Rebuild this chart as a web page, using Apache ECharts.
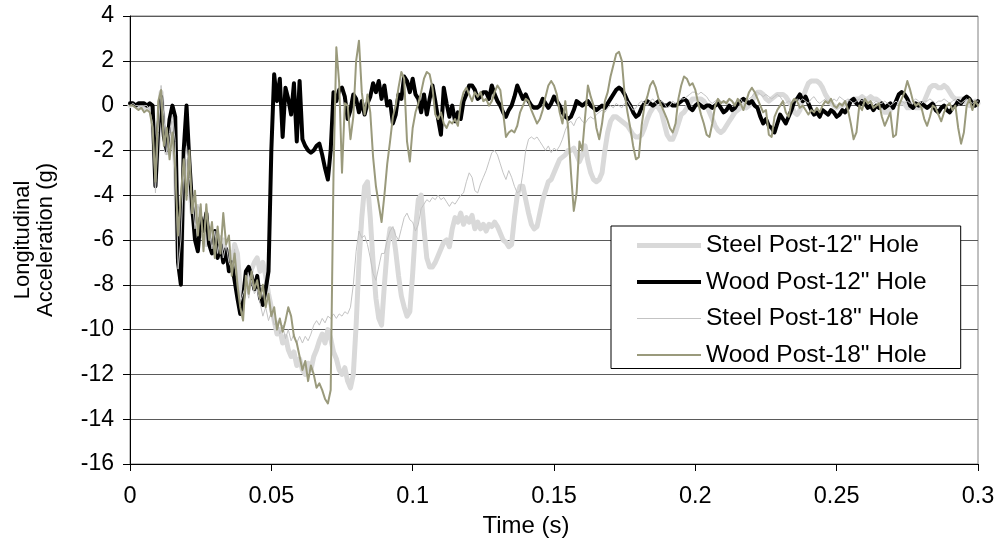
<!DOCTYPE html>
<html>
<head>
<meta charset="utf-8">
<script src="https://cdn.jsdelivr.net/npm/echarts@6/dist/echarts.min.js"></script>
<style>
  html, body { margin: 0; padding: 0; background: #ffffff; }
  #chart { width: 997px; height: 550px; }
</style>
</head>
<body>
<div id="chart"></div>
<script>
// Sampling interval of the accelerometer traces, in seconds
const SAMPLE_STEP = 0.001;

const seriesNames = ['Steel Post-12" Hole', 'Wood Post-12" Hole', 'Steel Post-18" Hole', 'Wood Post-18" Hole'];

// Longitudinal acceleration (g), one sample every millisecond from 0 to 0.3 s
const steel12 = [
  0, 0.1, 0, -0.1, 0, -0.1, 0, -0.1, -0.5, -3.2,
  -1.5, 0.6, -1.2, -2.1, -1.0, -0.8, -2.5, -6.8, -7.2, -3.5,
  -2.5, -3.5, -4.8, -5.2, -4.6, -5.8, -5.2, -6.2, -5.5, -6.0,
  -6.6, -5.8, -6.4, -6.0, -6.9, -6.5, -7.2, -6.2, -6.6, -8.2,
  -8.6, -7.8, -8.0, -7.3, -7.0, -6.8, -7.4, -7.0, -7.6, -8.4,
  -9.0, -9.6, -10.2, -10.0, -10.6, -10.3, -10.9, -11.2, -11.0, -11.6,
  -11.3, -11.8, -12.0, -11.5, -11.8, -11.2, -10.9, -10.5, -10.2, -10.6,
  -10.0, -10.4, -11.0, -11.3, -11.8, -12.0, -11.7, -12.3, -12.6, -12.0,
  -9.8, -7.0, -5.0, -3.6, -3.4, -5.0, -7.0, -8.6, -9.5, -9.8,
  -8.0, -6.4, -5.5, -5.6, -6.5, -7.6, -8.5, -9.0, -9.4, -9.2,
  -7.5, -5.5, -4.2, -4.0, -5.5, -6.8, -7.2, -7.2, -7.0, -6.7,
  -6.4, -6.1, -6.0, -6.3, -5.5, -5.0, -5.2, -4.8, -5.3, -5.0,
  -5.2, -4.9, -5.5, -5.2, -5.5, -5.3, -5.6, -5.3, -5.4, -5.2,
  -5.4, -5.7, -6.0, -6.1, -6.3, -6.2, -5.0, -4.0, -3.6, -3.6,
  -4.2, -4.8, -5.3, -5.5, -5.4, -4.8, -4.2, -3.8, -3.4, -3.3,
  -3.0, -2.7, -2.4, -2.3, -2.2, -2.0, -2.0, -1.9, -2.2, -2.5,
  -2.2, -1.8, -2.5, -3.0, -3.3, -3.4, -3.3, -3.0, -2.0, -1.2,
  -0.7, -0.5, -0.5, -0.6, -0.7, -0.8, -0.9, -1.1, -1.3, -1.4,
  -1.4, -1.3, -1.0, -0.6, -0.3, -0.1, 0, -0.1, -0.3, -0.8,
  -1.3, -1.5, -1.5, -1.2, -0.8, -0.4, -0.3, -0.1, 0.1, 0.3,
  0.3, 0.3, 0.3, 0.2, 0, -0.3, -0.6, -0.9, -1.1, -1.2,
  -1.1, -0.9, -0.7, -0.5, -0.3, -0.2, -0.1, 0, -0.1, 0,
  0.2, 0.4, 0.6, 0.6, 0.5, 0.3, 0.2, 0.3, 0.4, 0.5,
  0.5, 0.5, 0.4, 0.2, 0, -0.3, -0.4, -0.2, 0.3, 0.7,
  1.0, 1.1, 1.1, 1.1, 1.0, 0.8, 0.5, 0.3, 0.1, 0,
  -0.1, 0, 0, 0.1, 0.1, 0.2, 0.3, 0.3, 0.3, 0.4,
  0.3, 0.3, 0.4, 0.3, 0.3, 0.2, 0, -0.3, -0.3, -0.2,
  0, 0.1, 0.1, 0.1, 0.1, -0.1, -0.1, 0, -0.1, -0.1,
  -0.1, 0.2, 0.5, 0.8, 0.9, 0.9, 0.8, 0.8, 0.9, 0.8,
  0.6, 0.4, 0.3, 0.3, 0.3, 0.3, 0.1, 0, 0.1, 0.2,
  0.1
];

const wood12 = [
  0.1, 0.1, 0, 0.1, 0.1, 0.1, 0, 0.1, 0, -3.6,
  -1.0, 0.4, -1.4, -2.0, -0.6, 0, -0.5, -7.0, -8.0, -2.0,
  0, -2.5, -4.5, -6.0, -6.5, -5.0, -5.6, -4.8, -6.2, -6.6,
  -5.6, -6.8, -6.2, -7.0, -6.4, -7.4, -7.0, -7.8, -8.6, -9.3,
  -8.6, -7.4, -7.2, -7.6, -8.2, -7.6, -8.6, -8.9, -8.2, -7.4,
  -2.0, 1.4, 0.2, 1.2, -1.4, 0.8, 0.3, -0.4, 1.0, -1.6,
  1.1, -1.5, -1.8, -2.0, -2.1, -2.0, -1.8, -1.7, -2.2, -2.8,
  -3.3, -2.0, 0.6, 0.2, 0.7, 0.8, 0.4, -0.6, -0.2, 0.5,
  0.3, -0.3, 0.2, -0.4, 0.1, 0.4, 1.0, 0.6, 1.1, 0.3,
  0.9, 0, 0.2, -0.8, -0.4, 0.5, 0.3, 1.3, 1.1, 0.6,
  1.2, 0.5, 0.3, -0.3, 0.5, -0.4, 0.3, 0.9, 0.2, -0.6,
  -1.3, 0.8, 0.1, -0.5, 0, -0.7, -0.3, -0.6, 0.2, 0.5,
  0.9, 0.9, 0.7, 0.3, 0.4, 0.6, 0.6, 0.3, 0.9, 0.5,
  0.2, 0, -0.3, -0.5, -0.2, 0, 0.4, 0.9, 0.6, 0.3,
  0.5, 0.2, 0, -0.1, -0.1, 0, 0.3, 0.1, -0.1, 0.1,
  0.4, 0.2, 0, -0.3, -0.5, -0.6, -0.5, -0.2, 0.2, 0.1,
  0, 0.1, 0.2, 0, -0.1, -0.2, -0.1, 0, -0.1, 0.1,
  0.3, 0.5, 0.7, 0.8, 0.7, 0.5, 0.2, 0, -0.3, -0.5,
  -0.4, -0.1, 0.1, 0.2, 0.1, 0, 0.1, 0.2, 0.1, 0,
  0, 0.1, 0, 0, 0.1, 0.2, 0.3, 0.2, -0.1, -0.2,
  0, 0.1, 0, -0.1, 0, 0, -0.1, 0, 0.1, -0.1,
  -0.3, -0.2, 0, -0.2, -0.1, 0.1, 0.2, 0.3, 0.2, 0.1,
  0.2, 0, -0.1, -0.5, -0.8, -0.6, -0.9, -1.0, -1.2, -0.8,
  -0.4, -0.6, -0.8, -0.5, -0.2, 0.2, 0.3, 0.5, 0.2, 0.4,
  0.1, -0.2, -0.4, -0.3, -0.5, -0.2, -0.3, -0.4, -0.2, -0.3,
  -0.5, -0.4, -0.2, -0.3, -0.1, 0.2, 0.3, 0.1, 0, 0.2,
  0.1, -0.1, 0, -0.2, 0, -0.1, 0.1, -0.1, 0, 0.1,
  -0.1, 0.2, 0.5, 0.6, 0.5, 0.3, 0, -0.1, 0.1, 0,
  0.1, 0, -0.1, 0, 0.1, -0.2, -0.3, -0.1, 0, -0.2,
  -0.3, -0.1, 0, 0.2, 0.1, 0.3, 0.4, 0.3, 0.1, 0,
  0.2
];

const steel18 = [
  0, 0.1, 0, 0, -0.1, 0, 0, -0.2, -0.8, -3.9,
  -1.2, 0.9, -0.5, -2.2, -1.2, -0.4, -1.6, -7.3, -6.0, -3.0,
  -1.8, -3.2, -4.2, -5.5, -4.4, -5.0, -6.2, -4.6, -5.6, -6.4,
  -5.6, -6.6, -5.8, -6.8, -6.2, -7.0, -7.3, -6.4, -7.6, -8.8,
  -8.4, -8.0, -8.6, -7.8, -8.4, -8.2, -8.8, -9.4, -9.0, -9.6,
  -9.2, -9.8, -9.6, -10.2, -9.8, -10.4, -10.0, -10.5, -10.2, -10.6,
  -10.3, -10.6, -10.3, -10.5, -10.2, -9.8, -9.6, -9.8, -9.5, -9.7,
  -9.4, -9.5, -9.3, -9.5, -9.3, -9.4, -9.2, -9.3, -9.0, -8.0,
  -6.5, -5.6, -5.9, -5.8, -6.2, -6.8, -7.5, -7.8, -7.2, -6.6,
  -6.6, -6.0, -5.6, -5.4, -5.8, -6.0, -5.5, -5.0, -4.8, -5.1,
  -5.2, -5.6, -5.3, -4.6, -4.4, -4.2, -4.3, -4.1, -4.2, -4.0,
  -4.2, -4.1, -4.3, -4.5, -4.3, -4.4, -4.2, -4.0, -3.9, -3.4,
  -3.0, -3.2, -3.8, -3.9, -3.5, -3.2, -2.9, -2.5, -2.1, -2.0,
  -2.2, -2.6, -3.0, -3.3, -2.9, -3.2, -3.6, -3.9, -3.8, -3.0,
  -2.0, -1.5, -1.4, -1.5, -1.4, -1.6, -1.8, -2.0, -1.8, -2.1,
  -1.9, -2.0, -1.8, -1.5, -1.1, -0.8, -0.7, -0.9, -0.6, -0.5,
  -0.7, -0.8, -0.6, -0.5, -0.6, -0.4, -0.3, -0.2, -0.3, -0.1,
  0, -0.1, 0.1, 0, -0.1, 0.1, 0.2, 0, -0.2, -0.1,
  0.1, 0.2, 0.1, 0, 0.2, 0.3, 0.1, 0, 0.2, 0.1,
  -0.1, 0, 0.2, 0.1, 0.2, 0.3, 0.3, 0.4, 0.5, 0.6,
  0.6, 0.5, 0.6, 0.5, 0.4, 0.2, 0.1, 0.2, 0.3, 0.2,
  0.1, 0.2, 0.3, 0.2, 0.1, 0.2, 0.3, 0.1, 0.2, 0.3,
  0.4, 0.6, 0.6, 0.5, 0.4, 0.5, 0.4, 0.3, 0.4, 0.5,
  0.4, 0.2, 0.1, 0.2, 0.1, 0.2, 0.3, 0.2, 0.3, 0.2,
  0.1, 0.3, 0.4, 0.2, 0.1, 0.2, 0.3, 0.2, 0.1, 0.3,
  0.2, 0.4, 0.3, 0.2, 0.3, 0.2, 0.1, 0.2, 0.3, 0.2,
  0.3, 0.1, 0.2, 0.1, 0.2, 0.1, 0.1, 0.2, 0.1, 0,
  0.1, 0.2, 0.1, 0.2, 0.1, 0.2, 0.1, 0.2, 0.3, 0.2,
  0.1, 0.2, 0.2, 0.3, 0.2, 0.1, 0.2, 0.2, 0.3, 0.2,
  0.1, 0.2, 0.3, 0.2, 0.1, 0.2, 0.3, 0.2, 0.1, 0.2,
  0.2
];

const wood18 = [
  0, 0, -0.1, -0.2, -0.1, -0.3, -0.2, -0.3, -1.0, -3.4,
  0.2, 0.7, -1.8, -1.0, -2.4, -1.2, -2.8, -5.8, -4.0, -2.4,
  -4.2, -2.0, -4.8, -3.8, -5.8, -4.4, -6.5, -4.4, -6.0, -5.2,
  -6.8, -5.4, -6.6, -4.8, -6.2, -5.8, -7.6, -6.6, -8.0, -9.0,
  -9.6, -7.6, -8.4, -7.4, -8.2, -7.8, -8.6, -8.0, -9.0, -8.4,
  -9.4, -9.0, -10.0, -9.5, -10.1, -9.6, -9.0, -9.4, -10.3, -10.6,
  -11.2, -11.8, -11.4, -12.3, -11.6, -12.0, -12.6, -12.4, -12.7, -13.1,
  -13.3, -12.7, -3.0, 2.6, 1.0, -3.0, 0.1, 0, -1.5, -0.5,
  2.0, 2.9, 0.6, -0.4, 0.5, -0.3, -2.3, -3.6, -4.4, -5.2,
  -4.0, -2.6, -1.6, -0.5, 0, 0.8, 1.5, 1.2, -1.6, -2.5,
  -1.0, -0.3, 0.1, 0.6, 1.2, 1.5, 1.4, 0.8, -0.4, -0.6,
  -0.3, -0.8, -1.0, -0.7, -0.8, -0.6, -0.9, 0.1, 0.6, 0.8,
  0.5, 0.2, 0.6, 0.4, 0.6, 0.2, 0.3, 0, 0.2, 0.6,
  0.9, 0.7, -0.3, -1.4, -1.2, -1.1, -1.2, -0.9, -0.3, 0,
  0.3, 0.2, -0.2, -0.5, -0.8, -0.6, -0.2, 0.4, 0.9, 1.1,
  0.9, 0.5, -0.3, -0.8, 0.2, -1.0, -3.0, -4.7, -3.9, -1.6,
  -2.0, -0.5, 0.9, 0.4, 0, -1.0, -1.5, -0.8, 0.2, 0.6,
  1.3, 1.8, 2.3, 2.4, 2.0, 0.5, -0.3, -1.0, -1.8, -2.4,
  -2.3, -0.9, 0, 0.4, 0.9, 1.1, 0.8, 0.3, 0, -0.3,
  -0.6, -1.0, -1.2, -0.8, 0.3, 0.9, 1.3, 1.2, 0.9, 1.0,
  0.7, 0.1, -0.4, -0.8, -1.3, -1.4, -0.8, 0, 0.3, 0.1,
  0.2, 0.1, 0.3, 0.2, 0, 0.3, 0.1, -0.2, 0.2, 0.6,
  0.8, 0.6, 0.3, 0, -0.3, -0.2, -1.3, -1.4, -0.5, -0.2,
  0, 0.2, -0.3, -0.5, 0.1, 0.3, 0.2, -0.1, 0, -0.2,
  -0.4, -0.2, -0.3, -0.1, -0.3, 0, 0.2, 0.1, 0.3, 0,
  -0.1, 0.1, 0, 0.2, -0.2, -0.8, -1.5, -1.2, 0, -0.2,
  0.3, 0.1, 0.2, -0.1, 0, 0.1, -0.5, -0.9, -0.6, -0.3,
  -1.4, -1.3, 0, 0.3, 0.6, 1.1, 0.7, 0.2, 0, 0.1,
  -0.1, -0.6, -0.9, -0.5, 0, -0.1, -0.4, -0.7, -0.3, 0,
  0.1, -0.2, 0, -1.0, -1.7, -1.2, 0, 0.3, -0.2, 0.2,
  0
];

// Axis ranges and tick spacing
const timeRange = [0, 0.3];
const timeTickStep = 0.05;
const accelRange = [-16, 4];
const accelTickStep = 2;

function toPairs(values) {
  return values.map((v, i) => [+(i * SAMPLE_STEP).toFixed(3), v]);
}

const seriesValues = [steel12, wood12, steel18, wood18];
const seriesStyles = [
  { color: '#d9d9d9', width: 5 },
  { color: '#000000', width: 4 },
  { color: '#c3c3c3', width: 1 },
  { color: '#9a9a7c', width: 2 }
];

// Legend key: a horizontal bar as thick as the series line, centred in a 64x20 box
function legendBar(thickness) {
  const y0 = 10 - thickness / 2, y1 = 10 + thickness / 2;
  return 'path://M0,0M64,20M0,' + y0 + 'H64V' + y1 + 'H0Z';
}

const FONT = 'Liberation Sans, Arial, sans-serif';
const chart = echarts.init(document.getElementById('chart'), null, { renderer: 'canvas' });

chart.setOption({
  animation: false,
  backgroundColor: '#ffffff',
  textStyle: { fontFamily: FONT },
  grid: {
    left: 130, right: 19, top: 16, bottom: 86,
    outerBoundsMode: 'none',
    containLabel: false,
    show: true, borderColor: '#808080', borderWidth: 1, backgroundColor: 'transparent'
  },
  legend: {
    show: true,
    left: 611, top: 226,
    orient: 'vertical',
    backgroundColor: '#ffffff',
    borderColor: '#000000', borderWidth: 1,
    padding: [7, 34, 1, 26],
    itemWidth: 64, itemHeight: 20, itemGap: 11.5,
    symbolKeepAspect: false,
    itemStyle: { borderWidth: 0 },
    textStyle: { fontFamily: FONT, fontSize: 24.5, color: '#000000', lineHeight: 24.5 },
    data: seriesNames.map((name, k) => ({
      name: name,
      icon: legendBar(seriesStyles[k].width),
      itemStyle: { color: seriesStyles[k].color, borderWidth: 0 }
    }))
  },
  xAxis: {
    type: 'value',
    min: timeRange[0], max: timeRange[1], interval: timeTickStep,
    name: 'Time (s)', nameLocation: 'middle', nameGap: 46,
    nameTextStyle: { fontFamily: FONT, fontSize: 24, color: '#000000', padding: [0, 56, 0, 0] },
    axisLine: { show: true, onZero: false, lineStyle: { color: '#000000', width: 1 } },
    axisTick: { show: true, length: 7, lineStyle: { color: '#000000' } },
    axisLabel: { fontFamily: FONT, fontSize: 23.5, color: '#000000', margin: 21 },
    splitLine: { show: false }
  },
  yAxis: {
    type: 'value',
    min: accelRange[0], max: accelRange[1], interval: accelTickStep,
    name: 'Longitudinal\nAcceleration (g)', nameLocation: 'middle', nameGap: 73,
    nameTextStyle: { fontFamily: FONT, fontSize: 22, color: '#000000', lineHeight: 23 },
    axisLine: { show: true, onZero: false, lineStyle: { color: '#000000', width: 1 } },
    axisTick: { show: true, length: 7, lineStyle: { color: '#000000' } },
    axisLabel: { fontFamily: FONT, fontSize: 23, color: '#000000', margin: 16 },
    splitLine: { show: true, lineStyle: { color: '#5a5a5a', width: 1 } }
  },
  series: seriesValues.map((vals, k) => ({
    name: seriesNames[k],
    type: 'line',
    data: toPairs(vals),
    symbol: 'none',
    showSymbol: false,
    smooth: false,
    z: 2 + k,
    lineStyle: { color: seriesStyles[k].color, width: seriesStyles[k].width, join: 'round', cap: 'round' },
    itemStyle: { color: seriesStyles[k].color }
  }))
});
</script>
</body>
</html>
